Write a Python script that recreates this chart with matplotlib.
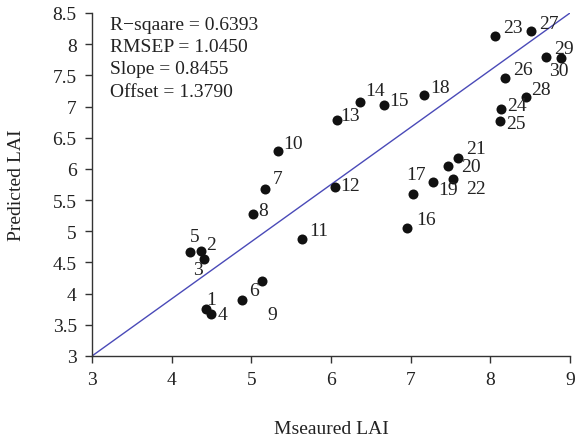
import matplotlib
matplotlib.use("Agg")
import matplotlib.pyplot as plt
from matplotlib.ticker import FuncFormatter

ids = list(range(1, 31))
measured = [4.43, 4.37, 4.40, 4.49, 4.225, 5.14, 5.175, 5.02, 4.88, 5.33,
            5.63, 6.05, 6.08, 6.37, 6.67, 6.95, 7.03, 7.17, 7.28, 7.47,
            7.59, 7.53, 8.06, 8.13, 8.12, 8.18, 8.51, 8.45, 8.70, 8.89]
predicted = [3.75, 4.68, 4.55, 3.67, 4.67, 4.21, 5.68, 5.28, 3.90, 6.28,
             4.88, 5.71, 6.79, 7.07, 7.02, 5.06, 5.59, 7.18, 5.79, 6.04,
             6.18, 5.84, 8.13, 6.96, 6.77, 7.46, 8.21, 7.16, 7.80, 7.78]
# label offsets in pixels (dx right, dy down)
label_dx = [5, 10, -6, 12, 5, -8, 12, 10, 30, 15,
            17, 15, 13, 15, 15, 19, 3, 16, 15, 23,
            18, 23, 18, 16, 16, 18, 18, 15, 18, -2]
label_dy = [-10, -7, 10, 0, -15, 10, -10, -3, 15, -8,
            -8, -1, -4, -12, -5, -8, -20, -8, 7, 0,
            -9, 10, -9, -4, 3, -8, -8, -7, -8, 13]

stats_text = ["R\u2212sqaare = 0.6393", "RMSEP = 1.0450",
              "Slope = 0.8455", "Offset = 1.3790"]
xticks = [3, 4, 5, 6, 7, 8, 9]
yticks = [3, 3.5, 4, 4.5, 5, 5.5, 6, 6.5, 7, 7.5, 8, 8.5]
line_x = [3, 9]
line_y = [3, 8.5]

plt.rcParams['font.family'] = ['Liberation Serif', 'DejaVu Serif']
fig = plt.figure(figsize=(5.75, 4.39), dpi=100)
ax = fig.add_axes([92/575, 1-357/439, (570-92)/575, (357-14)/439])

ax.plot(line_x, line_y, color='#4a4ab8', lw=1.0, zorder=1)
ax.scatter(measured, predicted, s=52, color='#111111', zorder=3, linewidths=0)
for i, x, y, dx, dy in zip(ids, measured, predicted, label_dx, label_dy):
    ax.annotate(str(i), (x, y), xytext=(dx, -dy), textcoords='offset pixels',
                ha='center', va='center', fontsize=14, color='#222222',
                annotation_clip=False)

line_px = [25, 47.5, 70, 92.5]
for txt, yp in zip(stats_text, line_px):
    ax.text((110 - 92) / 478, (357 - yp) / 343, txt, transform=ax.transAxes,
            ha='left', va='center', fontsize=14, color='#222222')

ax.set_xlim(3, 9)
ax.set_ylim(3, 8.5)
ax.set_xticks(xticks)
ax.set_yticks(yticks)
fmt = FuncFormatter(lambda v, p: f"{v:g}")
ax.xaxis.set_major_formatter(fmt)
ax.yaxis.set_major_formatter(fmt)
for s in ['top', 'right']:
    ax.spines[s].set_visible(False)
for s in ['left', 'bottom']:
    ax.spines[s].set_color('#333333')
    ax.spines[s].set_linewidth(1.0)
ax.tick_params(direction='out', length=5, width=1, color='#333333',
               labelsize=14, labelcolor='#222222', pad=6)
ax.set_xlabel("Mseaured LAI", fontsize=14, color='#222222', labelpad=23)
ax.set_ylabel("Predicted LAI", fontsize=14, color='#222222', labelpad=20)

fig.savefig("out.png", dpi=100)
